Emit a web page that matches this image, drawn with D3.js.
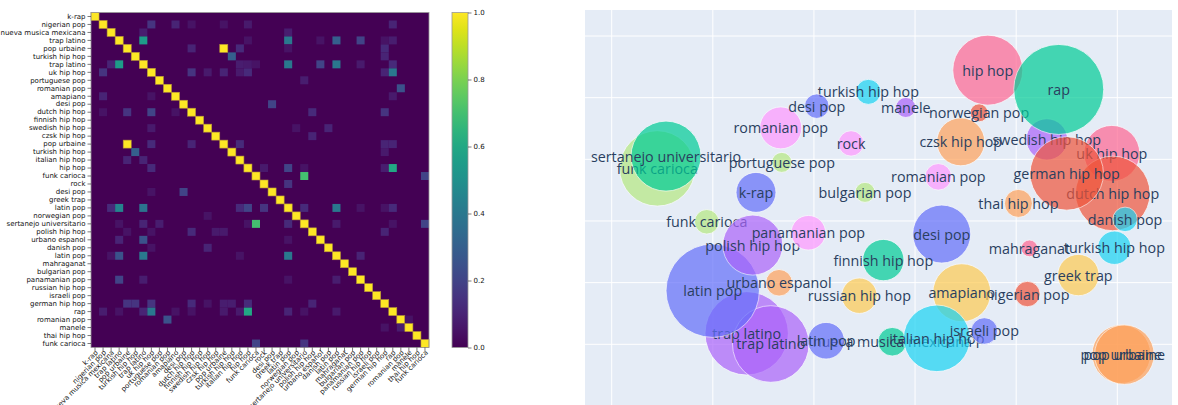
<!DOCTYPE html>
<html>
<head>
<meta charset="utf-8">
<script src="https://cdn.jsdelivr.net/npm/d3@7"></script>
<style>
  body { margin: 0; background: #ffffff; }
  svg { display: block; }
</style>
</head>
<body>
<svg id="chart" width="1178" height="405"></svg>
<script>
// ---------- genre similarity matrix ----------
const genres = [
  "k-rap", "nigerian pop", "nueva musica mexicana", "trap latino", "pop urbaine",
  "turkish hip hop", "trap latino", "uk hip hop", "portuguese pop", "romanian pop",
  "amapiano", "desi pop", "dutch hip hop", "finnish hip hop", "swedish hip hop",
  "czsk hip hop", "pop urbaine", "turkish hip hop", "italian hip hop", "hip hop",
  "funk carioca", "rock", "desi pop", "greek trap", "latin pop",
  "norwegian pop", "sertanejo universitario", "polish hip hop", "urbano espanol", "danish pop",
  "latin pop", "mahraganat", "bulgarian pop", "panamanian pop", "russian hip hop",
  "israeli pop", "german hip hop", "rap", "romanian pop", "manele",
  "thai hip hop", "funk carioca"
];

// off-diagonal similarities: [row, column, value]; diagonal is 1
const similarityPairs = [
  [3, 6, 0.55], [6, 3, 0.55], [4, 16, 1.0], [16, 4, 1.0],
  [5, 17, 0.3], [17, 5, 0.3], [20, 26, 0.7], [26, 20, 0.7],
  [19, 37, 0.6], [37, 19, 0.6], [3, 24, 0.4], [24, 3, 0.45],
  [6, 24, 0.4], [24, 6, 0.38], [3, 30, 0.3], [30, 3, 0.25],
  [6, 30, 0.4], [30, 6, 0.4], [24, 30, 0.4], [30, 24, 0.4],
  [3, 33, 0.2], [33, 3, 0.2], [6, 28, 0.2], [28, 6, 0.25],
  [9, 38, 0.25], [38, 9, 0.25], [11, 22, 0.2], [22, 11, 0.2],
  [20, 41, 0.2], [41, 20, 0.2], [7, 37, 0.4], [37, 7, 0.4],
  [26, 41, 0.2], [41, 26, 0.15], [19, 24, 0.2], [24, 19, 0.2],
  [21, 24, 0.15], [24, 21, 0.15], [1, 7, 0.15], [7, 1, 0.15],
  [12, 7, 0.2], [7, 12, 0.15], [12, 4, 0.15], [4, 12, 0.1],
  [12, 36, 0.15], [36, 12, 0.12], [36, 4, 0.15], [36, 5, 0.15],
  [4, 36, 0.12], [5, 36, 0.1], [36, 7, 0.15], [7, 36, 0.1],
  [18, 4, 0.1], [4, 18, 0.12], [18, 6, 0.1], [16, 7, 0.12],
  [16, 12, 0.1], [16, 18, 0.12], [16, 36, 0.1], [16, 37, 0.1],
  [24, 2, 0.12], [2, 24, 0.08], [2, 6, 0.08], [24, 18, 0.12],
  [28, 3, 0.1], [3, 28, 0.05], [33, 6, 0.08], [6, 33, 0.07],
  [12, 27, 0.12], [27, 12, 0.12], [10, 1, 0.1], [1, 10, 0.1],
  [36, 16, 0.08], [36, 17, 0.08], [36, 19, 0.12], [36, 27, 0.1],
  [27, 36, 0.1], [37, 1, 0.08], [37, 6, 0.1], [37, 24, 0.1],
  [24, 37, 0.12], [37, 16, 0.07], [37, 18, 0.07], [37, 30, 0.07],
  [6, 37, 0.12], [1, 37, 0.1], [14, 29, 0.1], [29, 14, 0.1],
  [15, 27, 0.1], [27, 15, 0.07], [27, 16, 0.07], [19, 7, 0.12],
  [7, 19, 0.12], [7, 16, 0.1], [7, 18, 0.07], [26, 24, 0.12],
  [24, 26, 0.12], [26, 6, 0.1], [26, 8, 0.08], [8, 26, 0.08],
  [30, 33, 0.1], [33, 30, 0.08], [39, 38, 0.08], [38, 39, 0.05],
  [14, 7, 0.07], [7, 14, 0.07], [22, 7, 0.05], [12, 1, 0.05],
  [12, 10, 0.05], [1, 12, 0.05], [1, 16, 0.05], [1, 19, 0.07],
  [6, 18, 0.08], [6, 19, 0.07], [6, 20, 0.05], [6, 2, 0.1],
  [3, 19, 0.05], [3, 36, 0.05], [3, 37, 0.08], [4, 24, 0.05],
  [10, 7, 0.05], [10, 37, 0.07], [19, 26, 0.05],
  [19, 36, 0.08], [19, 21, 0.07], [29, 7, 0.05], [25, 14, 0.05],
  [27, 4, 0.05], [27, 7, 0.05], [30, 2, 0.05], [30, 18, 0.05],
  [26, 3, 0.05], [26, 19, 0.05], [26, 30, 0.07], [26, 37, 0.05],
  [28, 24, 0.05], [33, 24, 0.05], [24, 33, 0.05], [24, 36, 0.05],
  [36, 14, 0.05], [37, 3, 0.05], [37, 10, 0.05], [37, 12, 0.05],
  [37, 26, 0.05], [14, 25, 0.05], [17, 36, 0.07], [39, 36, 0.05]
];

const colorbarTicks = [0.0, 0.2, 0.4, 0.6, 0.8, 1.0];

// ---------- genre map (bubbles) ----------
const bubbleGenres = [
  "k-rap", "nigerian pop", "nueva musica mexicana", "trap latino", "trap latino",
  "pop urbaine", "pop urbaine", "turkish hip hop", "turkish hip hop", "uk hip hop",
  "portuguese pop", "romanian pop", "romanian pop", "amapiano", "desi pop",
  "desi pop", "dutch hip hop", "finnish hip hop", "swedish hip hop", "czsk hip hop",
  "italian hip hop", "hip hop", "funk carioca", "funk carioca", "rock",
  "greek trap", "latin pop", "latin pop", "norwegian pop", "sertanejo universitario",
  "polish hip hop", "urbano espanol", "danish pop", "mahraganat", "bulgarian pop",
  "panamanian pop", "russian hip hop", "israeli pop", "german hip hop", "rap",
  "manele", "thai hip hop"
];
const bubbleX = [
  1.427, 4.111, 2.775, 1.335, 1.573,
  5.040, 5.070, 2.538, 4.971, 4.946,
  1.682, 1.672, 3.230, 3.462, 2.028,
  3.264, 4.955, 2.686, 4.303, 3.452,
  3.215, 3.719, 0.451, 0.940, 2.367,
  4.615, 0.999, 2.120, 3.633, 0.537,
  1.395, 1.655, 5.077, 4.131, 2.505,
  1.945, 2.449, 3.685, 4.500, 4.421,
  2.908, 4.022
];
const bubbleY = [
  2.464, 0.815, 0.042, 0.178, 0.005,
  -0.160, -0.168, 4.094, 1.566, 3.096,
  2.950, 3.510, 2.716, 0.836, 3.862,
  1.788, 2.447, 1.366, 3.323, 3.284,
  0.097, 4.446, 2.853, 1.987, 3.258,
  1.123, 0.869, 0.058, 3.754, 3.052,
  1.609, 0.998, 2.026, 1.556, 2.464,
  1.809, 0.788, 0.216, 2.771, 4.133,
  3.841, 2.285
];
const bubbleSize = [
  18.3, 7.4, 9.4, 79.7, 67.3,
  39.4, 40.7, 7.2, 12.8, 35.9,
  4.6, 20.2, 8.1, 38.6, 6.9,
  38.6, 63.8, 19.6, 19.6, 26.4,
  50.8, 56.2, 65.2, 6.9, 7.4,
  19.6, 100, 15.4, 3.7, 56.2,
  41.3, 8.1, 6.9, 3.2, 4.6,
  13.7, 14.4, 8.1, 61.8, 92.9,
  4.6, 9.0
];
const gridTicksX = [0, 1, 2, 3, 4, 5];
const gridTicksY = [0, 1, 2, 3, 4, 5];
const bubblePalette = ["#636efa", "#EF553B", "#00cc96", "#ab63fa", "#FFA15A",
                       "#19d3f3", "#FF6692", "#B6E880", "#FF97FF", "#FECB52"];

const svg = d3.select("#chart");

// ================= heatmap =================
const hm = { left: 91, top: 12.5, width: 338, height: 335 };
const n = genres.length;
const idx = d3.range(n);
const xBand = d3.scaleBand().domain(idx).range([hm.left, hm.left + hm.width]);
const yBand = d3.scaleBand().domain(idx).range([hm.top, hm.top + hm.height]);
const cmap = d3.scaleSequential(d3.interpolateViridis).domain([0, 1]);

const matrix = idx.map(r => idx.map(c => (r === c ? 1 : 0)));
similarityPairs.forEach(([r, c, v]) => { matrix[r][c] = v; });
const cells = [];
idx.forEach(r => idx.forEach(c => cells.push({ r, c, v: matrix[r][c] })));

const heat = svg.append("g");
// background in the lowest colour so cell seams never show
heat.append("rect")
  .attr("x", hm.left).attr("y", hm.top)
  .attr("width", hm.width).attr("height", hm.height)
  .attr("fill", cmap(0));
heat.selectAll("rect.cell")
  .data(cells.filter(d => d.v > 0))
  .join("rect")
  .attr("class", "cell")
  .attr("x", d => xBand(d.c))
  .attr("y", d => yBand(d.r))
  .attr("width", xBand.bandwidth())
  .attr("height", yBand.bandwidth())
  .attr("fill", d => cmap(d.v))
  .attr("stroke", d => d.v > 0.9 ? "#b8953a" : "none")
  .attr("stroke-width", 0.6);

heat.append("rect")
  .attr("x", hm.left).attr("y", hm.top)
  .attr("width", hm.width).attr("height", hm.height)
  .attr("fill", "none").attr("stroke", "#9a9a9a").attr("stroke-width", 0.8);

const fontHm = "DejaVu Sans, sans-serif";

// y axis (row labels)
const yAxis = d3.axisLeft(yBand).tickSize(3.5).tickPadding(2).tickFormat(i => genres[i]);
const yG = svg.append("g").attr("transform", `translate(${hm.left},0)`).call(yAxis);
yG.select(".domain").remove();
yG.selectAll("line").attr("stroke", "#222").attr("stroke-width", 0.6);
yG.selectAll("text").attr("font-family", fontHm).attr("font-size", 7).attr("fill", "#111");

// x axis (rotated column labels)
const xAxis = d3.axisBottom(xBand).tickSize(3.5).tickPadding(2).tickFormat(i => genres[i]);
const xG = svg.append("g").attr("transform", `translate(0,${hm.top + hm.height})`).call(xAxis);
xG.select(".domain").remove();
xG.selectAll("line").attr("stroke", "#222").attr("stroke-width", 0.6);
xG.selectAll("text")
  .attr("font-family", fontHm).attr("font-size", 7).attr("fill", "#111")
  .attr("text-anchor", "end")
  .attr("dy", "0.5em").attr("dx", "0.2em")
  .attr("transform", "translate(0,4) rotate(-45)")
  .attr("y", 0);

// colorbar
const cb = { x: 452, y: hm.top, w: 16, h: hm.height };
const defs = svg.append("defs");
const grad = defs.append("linearGradient").attr("id", "viridisGrad")
  .attr("x1", 0).attr("y1", 1).attr("x2", 0).attr("y2", 0);
d3.range(0, 1.0001, 0.05).forEach(t => {
  grad.append("stop").attr("offset", t).attr("stop-color", cmap(t));
});
svg.append("rect").attr("x", cb.x).attr("y", cb.y).attr("width", cb.w).attr("height", cb.h)
  .attr("fill", "url(#viridisGrad)").attr("stroke", "#9a9a9a").attr("stroke-width", 0.8);
const cbScale = d3.scaleLinear().domain([0, 1]).range([cb.y + cb.h, cb.y]);
const cbG = svg.append("g").attr("transform", `translate(${cb.x + cb.w},0)`)
  .call(d3.axisRight(cbScale).tickValues(colorbarTicks).tickFormat(d3.format(".1f")).tickSize(3.5).tickPadding(2));
cbG.select(".domain").remove();
cbG.selectAll("line").attr("stroke", "#222").attr("stroke-width", 0.6);
cbG.selectAll("text").attr("font-family", fontHm).attr("font-size", 7).attr("fill", "#111");

// ================= bubble map =================
const plot = { left: 585, top: 10, right: 1172, bottom: 420 };
const xS = d3.scaleLinear().domain([0, 5]).range([611.7, 1117.3]);
const yS = d3.scaleLinear().domain([0, 5]).range([344.3, 36]);
const rS = d3.scaleSqrt().domain([0, 100]).range([0, 46.7]);

defs.append("clipPath").attr("id", "plotClip").append("rect")
  .attr("x", plot.left).attr("y", plot.top)
  .attr("width", plot.right - plot.left).attr("height", plot.bottom - plot.top);

svg.append("rect").attr("x", plot.left).attr("y", plot.top)
  .attr("width", plot.right - plot.left).attr("height", plot.bottom - plot.top)
  .attr("fill", "#E5ECF6");

const grid = svg.append("g").attr("clip-path", "url(#plotClip)");
grid.selectAll("line.vx").data(gridTicksX).join("line")
  .attr("x1", d => xS(d)).attr("x2", d => xS(d))
  .attr("y1", plot.top).attr("y2", plot.bottom)
  .attr("stroke", "#ffffff").attr("stroke-width", 1);
grid.selectAll("line.hy").data(gridTicksY).join("line")
  .attr("y1", d => yS(d)).attr("y2", d => yS(d))
  .attr("x1", plot.left).attr("x2", plot.right)
  .attr("stroke", "#ffffff").attr("stroke-width", 1);

// one trace per genre, in order of first appearance
const traceOrder = [];
bubbleGenres.forEach(g => { if (!traceOrder.includes(g)) traceOrder.push(g); });
const colorOf = {};
genres.filter((g, i) => genres.indexOf(g) === i).forEach((g, i) => {
  colorOf[g] = bubblePalette[i % bubblePalette.length];
});
const points = bubbleGenres.map((g, i) => ({ g, x: bubbleX[i], y: bubbleY[i], s: bubbleSize[i] }));

const layer = svg.append("g").attr("clip-path", "url(#plotClip)");
traceOrder.forEach(g => {
  const pts = points.filter(p => p.g === g);
  const tg = layer.append("g");
  tg.selectAll("circle").data(pts).join("circle")
    .attr("cx", d => xS(d.x)).attr("cy", d => yS(d.y)).attr("r", d => rS(d.s))
    .attr("fill", colorOf[g]).attr("stroke", "#ffffff").attr("stroke-width", 0.8)
    .attr("opacity", 0.7);
  tg.selectAll("text").data(pts).join("text")
    .attr("x", d => xS(d.x)).attr("y", d => yS(d.y))
    .attr("text-anchor", "middle").attr("dominant-baseline", "central")
    .attr("font-family", "'Open Sans', verdana, arial, sans-serif")
    .attr("font-size", 14.3).attr("fill", "#2a3f5f")
    .text(d => d.g);
});
</script>
</body>
</html>
